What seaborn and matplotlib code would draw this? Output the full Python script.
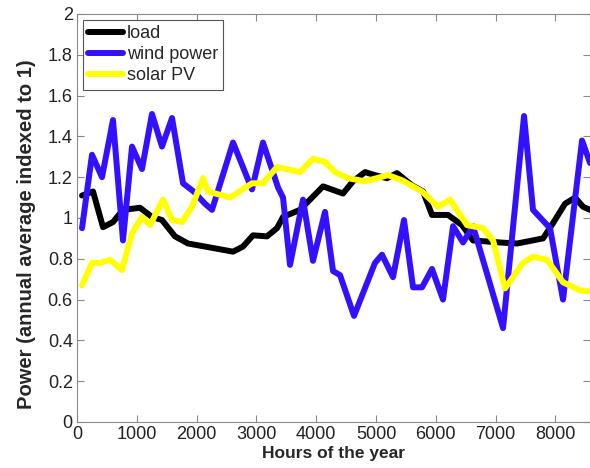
import numpy as np
import pandas as pd
import matplotlib
matplotlib.use("Agg")
import matplotlib.pyplot as plt
import seaborn as sns
from matplotlib.ticker import FuncFormatter

# values
load_hours = [84, 268, 435, 602, 769, 1054, 1254, 1421, 1639, 1856, 2140, 2609, 2776,
              2943, 3177, 3344, 3445, 3729, 3946, 4114, 4448, 4615, 4816, 4983, 5184,
              5351, 5602, 5786, 5936, 6204, 6438, 6622, 7074, 7358, 7793, 7960, 8161,
              8328, 8462, 8578]
load_vals = [1.11, 1.13, 0.955, 0.98, 1.04, 1.05, 1.005, 0.99, 0.91, 0.875, 0.86, 0.835, 0.86,
             0.915, 0.91, 0.95, 1.005, 1.04, 1.105, 1.155, 1.12, 1.18, 1.225, 1.21, 1.195,
             1.22, 1.16, 1.13, 1.015, 1.015, 0.965, 0.89, 0.88, 0.875, 0.9, 0.975, 1.07,
             1.1, 1.055, 1.04]

wind_hours = [84, 251, 418, 602, 769, 920, 1087, 1254, 1421, 1589, 1773, 1950, 2140, 2258,
              2609, 2926, 3110, 3361, 3445, 3562, 3779, 3946, 4147, 4281, 4398, 4632, 4983,
              5100, 5284, 5468, 5619, 5769, 5936, 6120, 6288, 6455, 6622, 7124, 7475, 7625,
              7910, 8127, 8445, 8578]
wind_vals = [0.95, 1.31, 1.2, 1.48, 0.89, 1.35, 1.24, 1.51, 1.35, 1.49, 1.17, 1.13, 1.07, 1.04,
             1.37, 1.14, 1.37, 1.15, 1.1, 0.77, 1.09, 0.79, 1.03, 0.74, 0.72, 0.52, 0.78,
             0.82, 0.71, 0.99, 0.66, 0.66, 0.75, 0.6, 0.96, 0.88, 0.96, 0.46, 1.5, 1.04,
             0.95, 0.6, 1.38, 1.27]

solar_hours = [84, 251, 385, 552, 752, 920, 1087, 1221, 1438, 1589, 1756, 1923, 2107, 2191,
               2559, 2926, 3110, 3344, 3729, 3946, 4147, 4314, 4532, 4816, 5201, 5435, 5769,
               6037, 6237, 6522, 6789, 6957, 7157, 7458, 7625, 7860, 8127, 8411, 8578]
solar_vals = [0.67, 0.78, 0.78, 0.795, 0.745, 0.925, 1.005, 0.965, 1.09, 0.99, 0.98, 1.055,
              1.195, 1.13, 1.1, 1.17, 1.17, 1.25, 1.225, 1.29, 1.275, 1.225, 1.195, 1.18,
              1.21, 1.185, 1.13, 1.055, 1.09, 0.965, 0.95, 0.89, 0.655, 0.78, 0.81, 0.795,
              0.685, 0.645, 0.64]

series = [
    ("load", load_hours, load_vals, "black"),
    ("wind power", wind_hours, wind_vals, "#3311ff"),
    ("solar PV", solar_hours, solar_vals, "#ffff00"),
]

sns.set_style("ticks")
plt.rcParams["font.family"] = ["Liberation Sans", "DejaVu Sans"]

fig = plt.figure(figsize=(5.9, 4.68), dpi=100)
ax = fig.add_axes([0.1305, 0.0983, 0.8695, 0.8718])

for name, hrs, vals, col in series:
    df = pd.DataFrame({"hours": hrs, "power": vals})
    sns.lineplot(data=df, x="hours", y="power", color=col, linewidth=4.3,
                 label=name, ax=ax, sort=False)

ax.set_xlim(0, 8578)
ax.set_ylim(0, 2)
ax.set_xticks(np.arange(0, 8001, 1000))
ax.set_yticks(np.arange(0, 2.01, 0.2))
ax.yaxis.set_major_formatter(FuncFormatter(lambda v, p: "%g" % round(v, 1)))
ax.tick_params(direction="in", top=True, right=True, labelsize=13, length=5,
               color="#888888", labelcolor="#222222", pad=3)
for s in ax.spines.values():
    s.set_color("#8a8a8a")
    s.set_linewidth(0.8)

ax.set_xlabel("Hours of the year", fontsize=12.5, fontweight="bold", labelpad=2)
ax.set_ylabel("Power (annual average indexed to 1)", fontsize=14.5, fontweight="bold")
ax.yaxis.set_label_coords(-0.08, 0.46)

leg = ax.legend(loc="upper left", fontsize=13, handlelength=1.9, handletextpad=0.22,
                borderpad=0.3, labelspacing=0.22, borderaxespad=0.33, fancybox=False,
                framealpha=1)
leg.get_frame().set_edgecolor("#555555")
leg.get_frame().set_linewidth(0.8)

fig.savefig("out.png", dpi=100)
